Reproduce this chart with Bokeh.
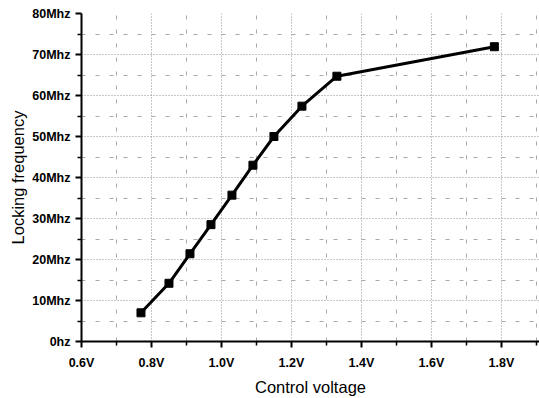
from bokeh.plotting import figure
from bokeh.models import Range1d, FixedTicker
from bokeh.embed import file_html
from bokeh.resources import INLINE

voltage = [0.77, 0.85, 0.91, 0.97, 1.03, 1.09, 1.15, 1.23, 1.33, 1.78]
freq_mhz = [7.0, 14.2, 21.4, 28.5, 35.7, 43.0, 50.0, 57.4, 64.7, 71.9]

x_ticks = [0.6, 0.8, 1.0, 1.2, 1.4, 1.6, 1.8]
x_labels = ["0.6V", "0.8V", "1.0V", "1.2V", "1.4V", "1.6V", "1.8V"]
x_minor = [0.7, 0.9, 1.1, 1.3, 1.5, 1.7, 1.9]
y_ticks = [0, 10, 20, 30, 40, 50, 60, 70, 80]
y_labels = ["0hz", "10Mhz", "20Mhz", "30Mhz", "40Mhz", "50Mhz", "60Mhz", "70Mhz", "80Mhz"]
y_minor = [5, 15, 25, 35, 45, 55, 65, 75]

p = figure(width=539, height=398, output_backend="svg", toolbar_location=None,
           x_range=Range1d(0.6, 1.909), y_range=Range1d(0, 80),
           min_border_left=81, min_border_right=0, min_border_top=13, min_border_bottom=53)
p.outline_line_color = None
p.background_fill_color = "white"

font = "Liberation Sans"
p.xaxis.ticker = FixedTicker(ticks=x_ticks, minor_ticks=x_minor)
p.yaxis.ticker = FixedTicker(ticks=y_ticks, minor_ticks=y_minor)
p.xaxis.major_label_overrides = {t: l for t, l in zip(x_ticks, x_labels)}
p.yaxis.major_label_overrides = {t: l for t, l in zip(y_ticks, y_labels)}

for ax in (p.xaxis, p.yaxis):
    ax.axis_line_width = 2
    ax.axis_line_color = "black"
    ax.major_tick_line_width = 2
    ax.major_tick_line_color = "black"
    ax.major_tick_out = 6
    ax.major_tick_in = 0
    ax.minor_tick_out = 4
    ax.minor_tick_in = 0
    ax.minor_tick_line_width = 1.5
    ax.minor_tick_line_color = "black"
    ax.major_label_text_font = font
    ax.major_label_text_font_style = "bold"
    ax.major_label_text_font_size = "12.5px"
    ax.major_label_text_color = "black"
    ax.axis_label_text_font = font
    ax.axis_label_text_font_style = "normal"
    ax.axis_label_text_font_size = "16.5px"
    ax.axis_label_text_color = "black"

p.xaxis.axis_label = "Control voltage"
p.yaxis.axis_label = "Locking frequency"
p.xaxis.major_label_standoff = 8
p.yaxis.major_label_standoff = 5
p.xaxis.axis_label_standoff = 5
p.yaxis.axis_label_standoff = 2

for g in (p.xgrid, p.ygrid):
    g.grid_line_color = "#909090"
    g.grid_line_dash = "1 2"
    g.grid_line_width = 1
    g.minor_grid_line_color = "#a8a8a8"
    g.minor_grid_line_dash = "4 10"
    g.minor_grid_line_width = 1

p.line(voltage, freq_mhz, line_color="black", line_width=3)
p.scatter(voltage, freq_mhz, marker="square", size=8, fill_color="black", line_color="black")

open("out.html", "w").write(file_html(p, INLINE))
